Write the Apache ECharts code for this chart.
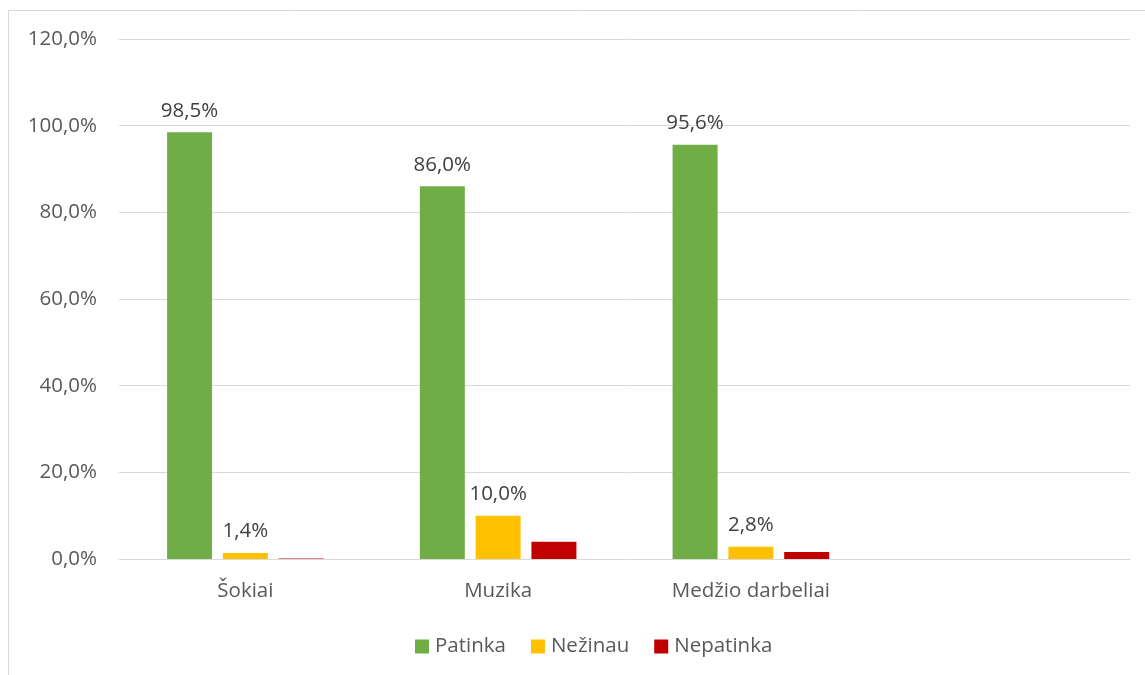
<!DOCTYPE html>
<html>
<head>
<meta charset="utf-8">
<script src="https://cdn.jsdelivr.net/npm/echarts@6/dist/echarts.min.js"></script>
<style>
  html, body { margin: 0; padding: 0; background: #fff; }
  #chart { width: 1145px; height: 675px; }
</style>
</head>
<body>
<div id="chart"></div>
<script>
// categories (last one is an empty slot, as in the source chart)
const categories = ['Šokiai', 'Muzika', 'Medžio darbeliai', ''];
const patinka = [98.5, 86.0, 95.6, null];
const nezinau = [1.4, 10.0, 2.8, null];
const nepatinka = [0.1, 4.0, 1.6, null];
const yTicks = { min: 0, max: 120, interval: 20 };

const fontFamily = '"Open Sans", "Noto Sans", sans-serif';
const fontSize = 20.5;
const fmtPct = (v) => v.toFixed(1).replace('.', ',') + '%';

const chart = echarts.init(document.getElementById('chart'));

const barLabel = {
  show: true,
  position: 'top',
  distance: 11,
  color: '#404040',
  fontSize,
  fontFamily,
  formatter: (p) => fmtPct(p.value),
};

chart.setOption({
  animation: false,
  textStyle: { fontFamily },
  // outer chart-area border
  graphic: [
    {
      type: 'rect',
      shape: { x: 8.5, y: 10.5, width: 1150, height: 700 },
      style: { fill: 'none', stroke: '#d9d9d9', lineWidth: 1 },
      silent: true,
    },
  ],
  legend: {
    data: ['Patinka', 'Nežinau', 'Nepatinka'],
    bottom: 13,
    left: 410,
    itemWidth: 14,
    itemHeight: 14,
    itemGap: 25,
    icon: 'rect',
    textStyle: { color: '#595959', fontSize, fontFamily, padding: [0, 0, 0, 1] },
  },
  grid: { left: 119, right: 15, top: 39, bottom: 116 },
  xAxis: {
    type: 'category',
    data: categories,
    axisLine: { lineStyle: { color: '#d9d9d9', width: 1 } },
    axisTick: { show: false },
    axisLabel: { color: '#595959', fontSize, margin: 22, fontFamily },
  },
  yAxis: {
    type: 'value',
    min: yTicks.min,
    max: yTicks.max,
    interval: yTicks.interval,
    axisLine: { show: false },
    axisTick: { show: false },
    splitLine: { lineStyle: { color: '#d9d9d9', width: 1 } },
    axisLabel: {
      color: '#595959',
      fontSize,
      margin: 22,
      fontFamily,
      formatter: (v) => fmtPct(v),
    },
  },
  series: [
    {
      name: 'Patinka',
      type: 'bar',
      data: patinka,
      barWidth: 45,
      barGap: '24%',
      itemStyle: { color: '#70AD47' },
      label: barLabel,
    },
    {
      name: 'Nežinau',
      type: 'bar',
      data: nezinau,
      barWidth: 45,
      barGap: '24%',
      itemStyle: { color: '#FFC000' },
      label: barLabel,
    },
    {
      name: 'Nepatinka',
      type: 'bar',
      data: nepatinka,
      barWidth: 45,
      barGap: '24%',
      itemStyle: { color: '#C00000' },
    },
  ],
});
</script>
</body>
</html>
